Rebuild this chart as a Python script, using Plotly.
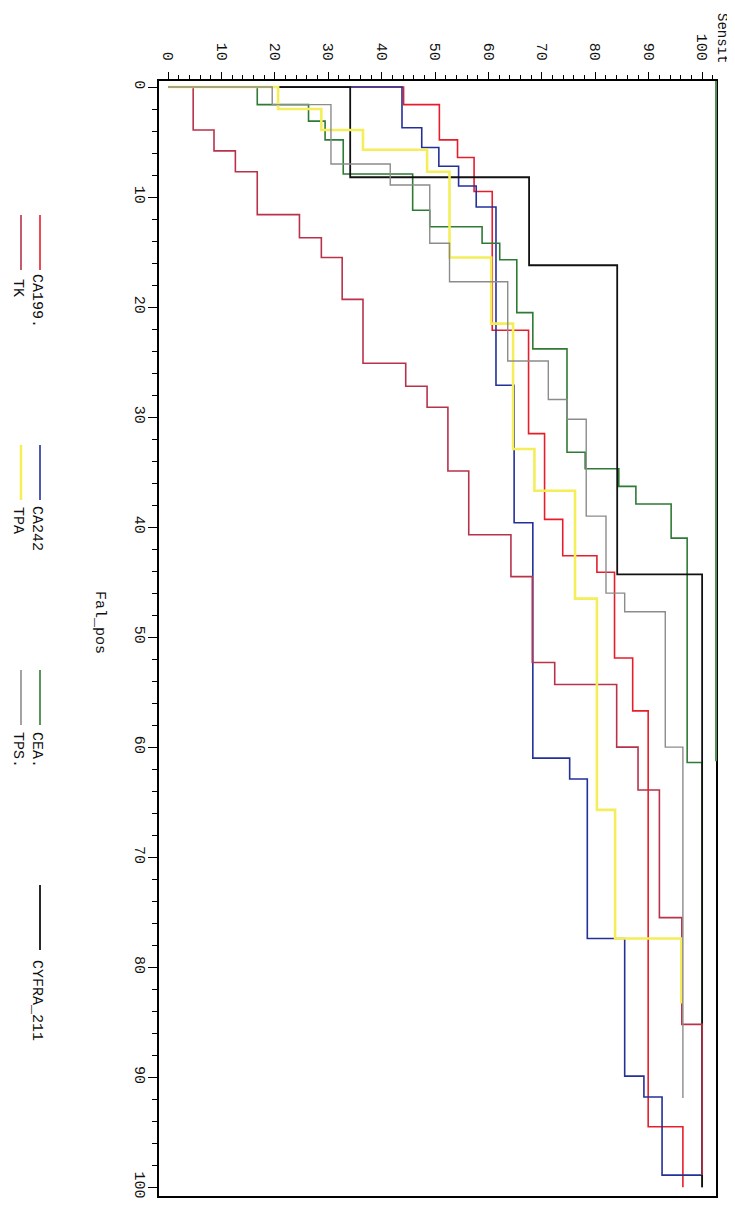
import plotly.graph_objects as go

# ROC step corners (Sensit, Fal_pos); drawn as horizontal-then-vertical steps
names = ["CA199.", "CA242", "CEA.", "CYFRA_211", "TK", "TPA", "TPS."]

ca199_sens = [0, 44.1, 50.8, 54.2, 57.3, 60.7, 67.5, 70.5, 73.9, 80.3, 83.6, 87.0, 89.9, 96.4]
ca199_fpos = [0, 1.6, 4.8, 6.4, 9.5, 22.1, 31.5, 39.3, 42.6, 44.1, 51.9, 56.7, 94.5, 100]

ca242_sens = [0, 43.8, 47.5, 50.7, 54.4, 57.7, 61.4, 64.8, 68.3, 75.2, 78.5, 85.5, 89.1, 92.5, 100]
ca242_fpos = [0, 3.7, 5.5, 7.2, 9.0, 10.9, 27.1, 39.6, 61.0, 62.9, 77.4, 89.9, 91.8, 98.9, 98.9]

cea_sens = [0, 16.7, 26.3, 29.4, 32.8, 45.8, 49.0, 58.8, 62.1, 65.3, 68.3, 74.7, 78.1, 84.4, 87.6, 94.2, 97.2, 100]
cea_fpos = [0, 1.6, 3.1, 4.8, 7.9, 11.2, 12.7, 14.2, 15.7, 20.5, 23.8, 33.2, 34.7, 36.3, 37.9, 41.0, 61.4, 100]

cyfra_sens = [0, 34.1, 67.6, 84.1, 100]
cyfra_fpos = [0, 8.2, 16.2, 44.3, 100]

tk_sens = [0, 4.7, 8.6, 12.6, 16.7, 24.6, 28.7, 32.6, 36.5, 44.5, 48.5, 52.4, 56.3, 64.2, 68.2, 72.4,
           84.0, 88.0, 92.0, 96.2, 100]
tk_fpos = [0, 3.9, 5.8, 7.7, 11.6, 13.7, 15.5, 19.3, 25.1, 27.2, 29.1, 34.9, 40.7, 44.5, 52.3, 54.3,
           60.0, 63.9, 75.5, 85.2, 98.9]

tpa_sens = [0, 20.6, 28.7, 36.5, 48.5, 52.7, 60.5, 64.6, 68.6, 76.2, 80.3, 83.7, 96.1]
tpa_fpos = [0, 2.0, 3.9, 5.7, 7.7, 15.5, 21.5, 32.9, 36.7, 46.5, 65.7, 77.4, 83.3]

tps_sens = [0, 19.5, 30.5, 41.6, 49.0, 52.7, 63.6, 71.2, 74.7, 78.3, 82.0, 85.5, 93.1, 96.4]
tps_fpos = [0, 1.6, 7.0, 8.9, 14.2, 17.7, 24.9, 28.4, 30.2, 39.0, 46.0, 47.7, 60.0, 91.9]

sens_ticks = list(range(0, 101, 10))
fpos_ticks = list(range(0, 101, 10))

series = [
    (names[0], ca199_sens, ca199_fpos, "#e61e2b", 1.6),
    (names[1], ca242_sens, ca242_fpos, "#23309a", 1.6),
    (names[2], cea_sens, cea_fpos, "#2f7a34", 1.6),
    (names[3], cyfra_sens, cyfra_fpos, "#111111", 1.8),
    (names[4], tk_sens, tk_fpos, "#b8324a", 1.6),
    (names[5], tpa_sens, tpa_fpos, "#f4ee5a", 2.6),
    (names[6], tps_sens, tps_fpos, "#8c8c8c", 1.4),
]

fig = go.Figure()
for nm, xs, ys, col, w in series:
    fig.add_trace(go.Scatter(x=xs, y=ys, mode="lines", name=nm,
                             line=dict(color=col, width=w, shape="hv"),
                             showlegend=False))

# page has an 8px body margin; figure occupies 8..735 x 8..1216
OFF = 8
W, H = 727, 1208
L, R, T, B = 151, 19, 73, 20
pw, ph = W - L - R, H - T - B

def px(xpix):
    return (xpix - OFF - L) / pw

def py(ypix):
    return (OFF + H - B - ypix) / ph

font = dict(family="Liberation Mono", size=15, color="#111111")

fig.update_layout(
    width=W, height=H,
    margin=dict(l=L, r=R, t=T, b=B),
    paper_bgcolor="white", plot_bgcolor="white",
    xaxis=dict(range=[-1.7, 102.6], side="top", tickmode="array",
               tickvals=sens_ticks, ticktext=[str(v) for v in sens_ticks],
               tickangle=90, ticks="outside", ticklen=7, tickwidth=1.3, tickcolor="black",
               ticklabelstandoff=6,
               minor=dict(tickmode="linear", tick0=0, dtick=2, ticks="outside", ticklen=4,
                          tickwidth=1, tickcolor="black"),
               showline=True, mirror=True, linecolor="black", linewidth=2,
               showgrid=False, zeroline=False, tickfont=font),
    yaxis=dict(range=[100.8, -0.55], tickmode="array",
               tickvals=fpos_ticks, ticktext=[str(v) for v in fpos_ticks],
               tickangle=90, ticks="outside", ticklen=9, tickwidth=1.3, tickcolor="black",
               ticklabelstandoff=-5,
               minor=dict(tickmode="linear", tick0=0, dtick=2, ticks="outside", ticklen=5,
                          tickwidth=1, tickcolor="black"),
               showline=True, mirror=True, linecolor="black", linewidth=2,
               showgrid=False, zeroline=False, tickfont=font),
)

# greenish upper part of right frame edge (as in the scan)
fig.add_shape(type="line", xref="paper", yref="paper", x0=1, x1=1, y0=0.39, y1=1,
              line=dict(color="#4f8f55", width=2))

annotations = []
# axis titles
annotations.append(dict(text="Sensit", x=px(722), y=py(38), xref="paper", yref="paper",
                        showarrow=False, textangle=90, font=dict(font, size=14),
                        xanchor="center", yanchor="middle"))
annotations.append(dict(text="Fal_pos", x=px(100), y=py(622), xref="paper", yref="paper",
                        showarrow=False, textangle=90, font=font,
                        xanchor="center", yanchor="middle"))

# legend (rotated): (series index, line x, line y0, line y1, text center y)
legend_items = [
    (0, 40, 215, 270, 301),
    (4, 21, 215, 270, 288),
    (1, 40, 445, 500, 528),
    (5, 21, 445, 500, 520),
    (2, 40, 670, 725, 750),
    (6, 21, 670, 725, 750),
    (3, 40, 885, 950, 1000),
]
for idx, lx, ly0, ly1, ty in legend_items:
    nm, _, _, col, w = series[idx]
    fig.add_shape(type="line", xref="paper", yref="paper", x0=px(lx), x1=px(lx),
                  y0=py(ly0), y1=py(ly1), line=dict(color=col, width=max(w, 1.6)))
    annotations.append(dict(text=nm, x=px(lx - 3), y=py(ty), xref="paper", yref="paper",
                            showarrow=False, textangle=90, font=font,
                            xanchor="center", yanchor="middle"))

fig.update_layout(annotations=annotations)
fig.write_html("out.html")
